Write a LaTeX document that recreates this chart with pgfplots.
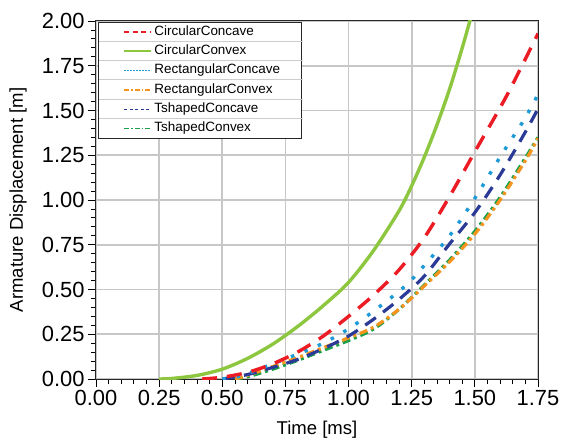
\documentclass[border=0pt]{standalone}
\usepackage{fontspec}
\setmainfont{Liberation Sans}
\usepackage{pgfplots}
\pgfplotsset{compat=1.18}
\definecolor{cred}{HTML}{EC1C24}
\definecolor{cgreen}{HTML}{8DC63F}
\definecolor{cblue}{HTML}{1E9AD6}
\definecolor{corange}{HTML}{F7941D}
\definecolor{cnavy}{HTML}{2B3A96}
\definecolor{cdgreen}{HTML}{1AA04A}
\begin{document}
\begin{tikzpicture}
\useasboundingbox (-96bp,-63bp) rectangle (473bp,379bp);
\begin{axis}[name=ax, at={(0,0)}, anchor=south west, scale only axis,
 width=442bp, height=358bp,
 xmin=0, xmax=1.75, ymin=0, ymax=2,
 xtick={0,0.25,...,1.75}, ytick={0,0.25,...,2},
 minor tick num=4,
 tick pos=left, tick align=outside,
 major tick length=8bp, minor tick length=5bp,
 tick style={black, line width=0.8bp},
 grid=major, major grid style={black!22, line width=1.6bp},
 axis line style={black!85, line width=1bp},
 ticklabel style={font=\fontsize{22}{24}\selectfont},
 xticklabel style={/pgf/number format/.cd, fixed, fixed zerofill, precision=2},
 yticklabel style={/pgf/number format/.cd, fixed, fixed zerofill, precision=2},
 /pgf/number format/assume math mode=true,
 xlabel={Time [ms]}, ylabel={Armature Displacement [m]},
 label style={font=\fontsize{18.6}{21}\selectfont},
 xlabel style={at={(axis description cs:0.5,-0.142)}, anchor=center},
 ylabel style={at={(axis description cs:-0.176,0.5)}, anchor=center},
 legend style={at={(axis description cs:0.0045,0.9972)}, anchor=north west,
   draw=black!85, line width=1bp, fill=white, inner xsep=0pt, inner ysep=0pt,
   row sep=0pt,
   nodes={font=\fontsize{13.5}{15}\selectfont, inner ysep=0pt, text height=12.8bp,
   text depth=6.5bp, text width=145bp, align=left, anchor=west}},
 legend cell align=left,
 legend image code/.code={\path (0bp,0bp); \draw[#1] (25bp,0bp) -- (52bp,0bp);},
]
\addlegendimage{cred, line width=1.4bp, dash pattern=on 5bp off 3.5bp}
\addlegendentry{CircularConcave}
\addlegendimage{cgreen, line width=2bp}
\addlegendentry{CircularConvex}
\addlegendimage{cblue, line width=1.4bp, dash pattern=on 1.5bp off 1.5bp}
\addlegendentry{RectangularConcave}
\addlegendimage{corange, line width=1.4bp, dash pattern=on 5bp off 2bp on 1.5bp off 2bp}
\addlegendentry{RectangularConvex}
\addlegendimage{cnavy, line width=1.4bp, dash pattern=on 3bp off 2.5bp}
\addlegendentry{TshapedConcave}
\addlegendimage{cdgreen, line width=1.4bp, dash pattern=on 5bp off 2bp on 1.5bp off 2bp}
\addlegendentry{TshapedConvex}

% TshapedConvex
\addplot[forget plot, cdgreen, line width=3.2bp, smooth, dash pattern=on 8bp off 4bp on 3bp off 4bp] coordinates {
(0.55,0) (0.6,0.012) (0.7,0.055) (0.8,0.105) (0.9,0.16) (1.0,0.215) (1.1,0.28) (1.2,0.39) (1.3,0.525) (1.4,0.665) (1.5,0.825) (1.6,1.015) (1.7,1.235) (1.75,1.35)};
% RectangularConvex
\addplot[forget plot, corange, line width=3.2bp, smooth, dash pattern=on 8bp off 4bp on 3bp off 4bp] coordinates {
(0.55,0) (0.6,0.02) (0.7,0.07) (0.8,0.12) (0.9,0.175) (1.0,0.23) (1.1,0.29) (1.2,0.39) (1.3,0.52) (1.4,0.655) (1.5,0.81) (1.6,1.0) (1.7,1.22) (1.75,1.345)};
% TshapedConcave
\addplot[forget plot, cnavy, line width=3.2bp, smooth, dash pattern=on 13bp off 9bp] coordinates {
(0.5,0) (0.6,0.025) (0.7,0.065) (0.8,0.11) (0.9,0.17) (1.0,0.24) (1.1,0.335) (1.2,0.445) (1.3,0.575) (1.4,0.755) (1.5,0.93) (1.6,1.14) (1.7,1.38) (1.75,1.51)};
% RectangularConcave
\addplot[forget plot, cblue, line width=3.4bp, smooth, dash pattern=on 3.5bp off 11bp] coordinates {
(0.5,0) (0.55,0.01) (0.6,0.03) (0.7,0.085) (0.8,0.14) (0.9,0.2) (1.0,0.28) (1.1,0.38) (1.2,0.49) (1.25,0.555) (1.3,0.635) (1.4,0.80) (1.5,1.01) (1.6,1.24) (1.65,1.35) (1.7,1.46) (1.75,1.59)};
% CircularConvex
\addplot[forget plot, cgreen, line width=3.4bp, smooth] coordinates {
(0.25,0) (0.3,0.003) (0.4,0.02) (0.5,0.055) (0.6,0.115) (0.7,0.195) (0.8,0.295) (0.9,0.41) (1.0,0.54) (1.1,0.72) (1.2,0.94) (1.25,1.08) (1.3,1.24) (1.35,1.42) (1.4,1.62) (1.45,1.85) (1.5,2.1)};
% CircularConcave
\addplot[forget plot, cred, line width=3.4bp, smooth, dash pattern=on 15bp off 10bp] coordinates {
(0.42,0) (0.5,0.01) (0.6,0.037) (0.7,0.085) (0.8,0.152) (0.9,0.24) (1.0,0.35) (1.1,0.47) (1.2,0.61) (1.3,0.79) (1.4,1.02) (1.5,1.27) (1.625,1.58) (1.75,1.93)};
\end{axis}
\foreach \k in {1,...,5}
  \draw[black!20, line width=0.8bp] ([xshift=3bp, yshift={-1bp-19.3bp*\k}]ax.north west) -- ++(204bp,0);
\end{tikzpicture}
\end{document}
